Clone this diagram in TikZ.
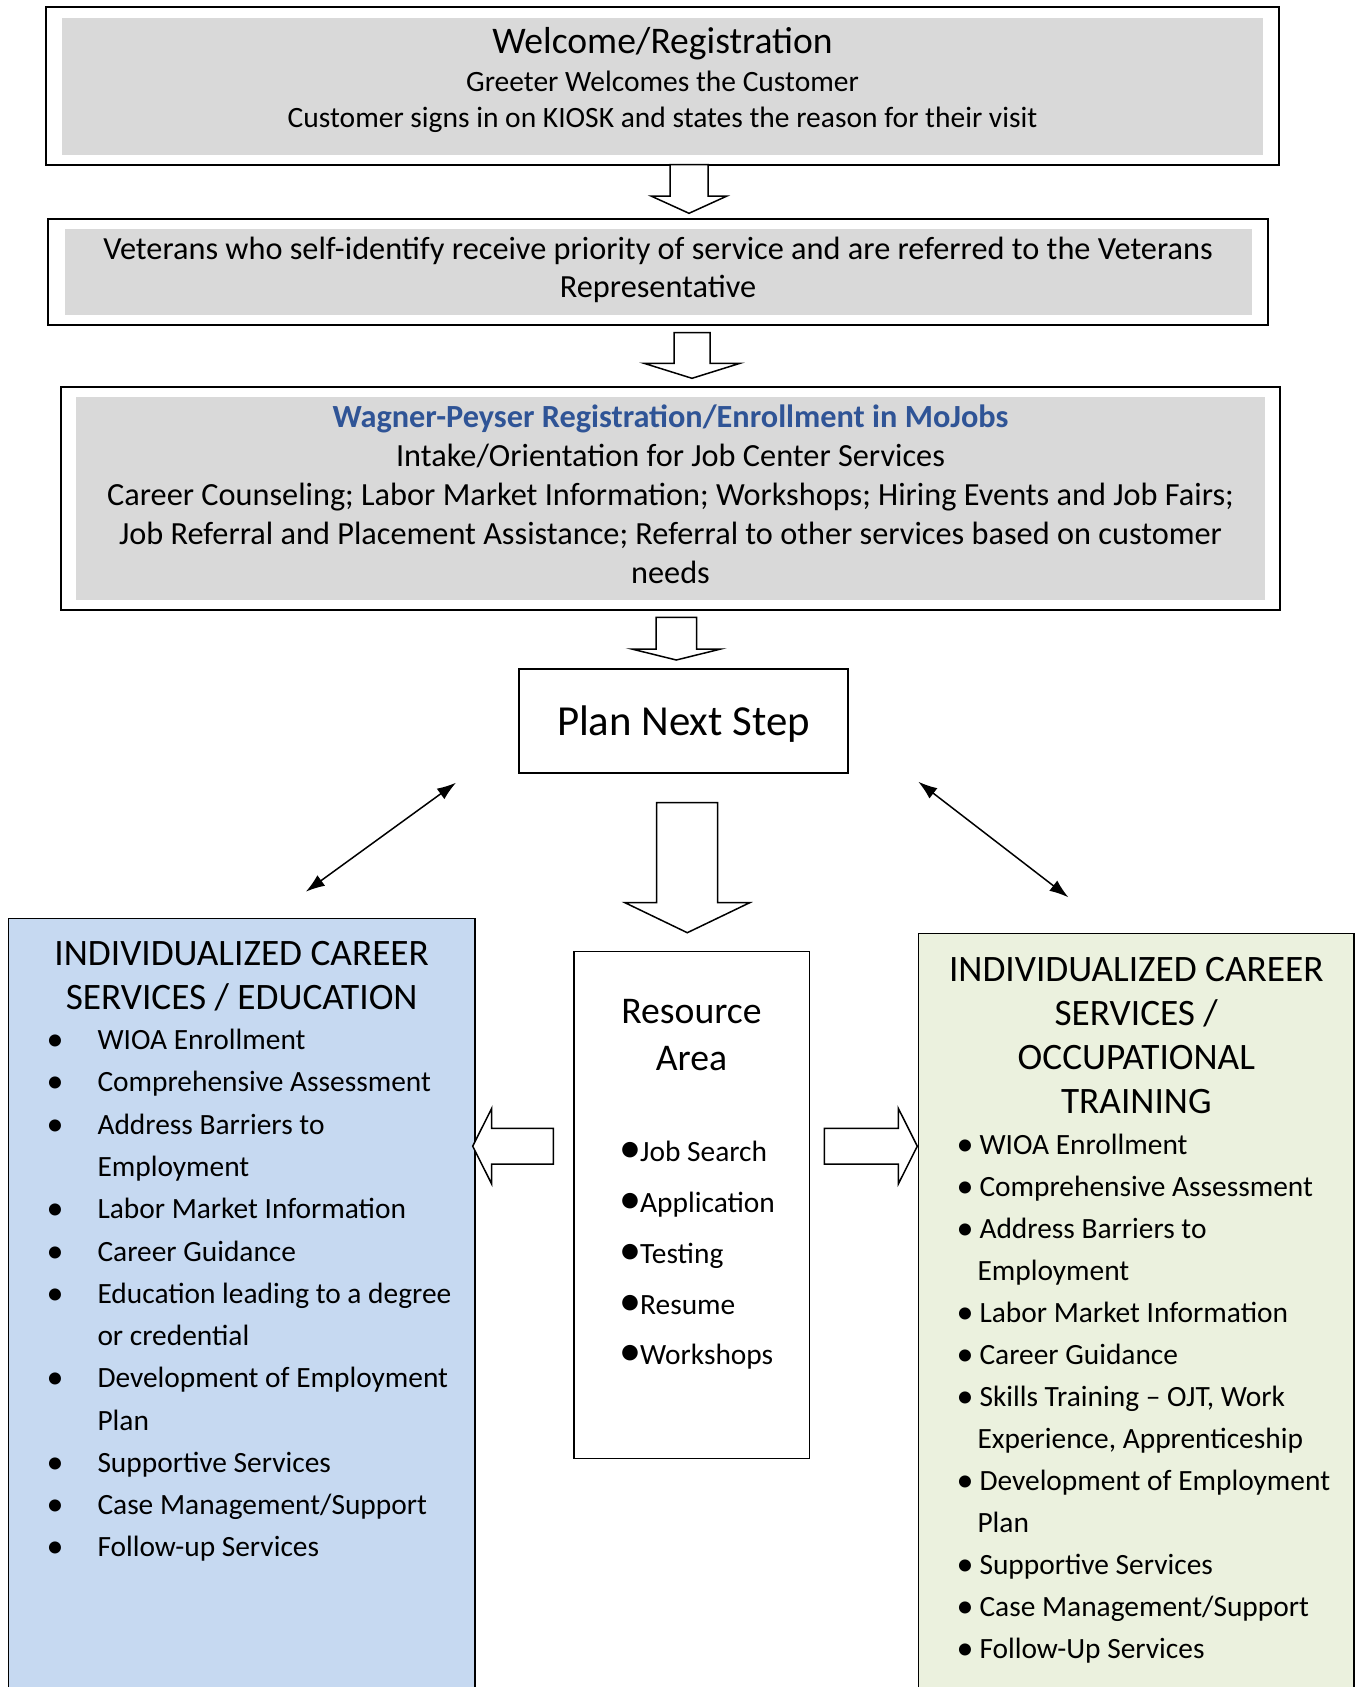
\documentclass[tikz,border=0pt]{standalone}
\usepackage{fontspec}
\setmainfont{Carlito}
\usetikzlibrary{arrows.meta}
\definecolor{boxgray}{RGB}{217,217,217}
\definecolor{edublue}{RGB}{198,217,241}
\definecolor{traingreen}{RGB}{235,241,222}
\definecolor{titleblue}{RGB}{47,84,150}
\newcommand{\listdot}[2][34]{\makebox[#2]{\raisebox{-1pt}{\fontsize{#1}{#1}\selectfont\textbullet}}}

\begin{document}
\begin{tikzpicture}[x=1pt, y=-1pt,
    outerbox/.style={draw, line width=2pt, inner sep=0pt},
    graybox/.style={fill=boxgray, inner sep=0pt},
    sidebox/.style={draw, line width=1.5pt, inner sep=0pt},
    plaintext/.style={inner sep=0pt, anchor=base, align=center},
    listtext/.style={inner sep=0pt, anchor=base west},
    blockarrow/.style={draw, fill=white, line width=1.5pt, line join=miter},
    linkarrow/.style={{Latex[length=19pt,width=13pt]}-{Latex[length=19pt,width=13pt]}, line width=1.5pt}]

  \useasboundingbox (0,0) rectangle (1356,1687);
  \clip (0,0) rectangle (1356,1687);

  % Welcome/Registration box (text placed by its last baseline)
  \node[outerbox, minimum width=1232.5pt, minimum height=157.4pt] (welcomeframe) at (662.25,86) {};
  \node[graybox, minimum width=1201pt, minimum height=137.3pt] (welcome) at (662.5,86.35) {};
  \node[plaintext, font={\fontsize{29.5}{36}\selectfont}] (welcometext) at (662.5,127.7) {%
    {\fontsize{37.6}{44}\selectfont Welcome/Registration}\\[2.4pt]
    Greeter Welcomes the Customer\\
    Customer signs in on KIOSK and states the reason for their visit};

  % Veterans box
  \node[outerbox, minimum width=1220.4pt, minimum height=106pt] (veteransframe) at (657.8,272) {};
  \node[graybox, minimum width=1187pt, minimum height=86pt] (veterans) at (658.5,272) {};
  \node[plaintext, font={\fontsize{32.3}{38.7}\selectfont}] (veteranstext) at (658,297.7) {%
    Veterans who self-identify receive priority of service and are referred to the Veterans\\
    Representative};

  % Wagner-Peyser box
  \node[outerbox, minimum width=1219.5pt, minimum height=223.3pt] (wagnerframe) at (670.25,498.35) {};
  \node[graybox, minimum width=1188.7pt, minimum height=203.3pt] (wagner) at (670.35,498.35) {};
  \node[plaintext, font={\fontsize{32.3}{39}\selectfont}] (wagnertext) at (670.5,583.3) {%
    {\bfseries\color{titleblue}Wagner-Peyser Registration/Enrollment in MoJobs}\\
    Intake/Orientation for Job Center Services\\
    Career Counseling; Labor Market Information; Workshops; Hiring Events and Job Fairs;\\
    Job Referral and Placement Assistance; Referral to other services based on customer\\
    needs};

  % Plan next step
  \node[outerbox, minimum width=329pt, minimum height=104.6pt, text height=30pt, text depth=2pt,
        font={\fontsize{42.8}{50}\selectfont}] (plan) at (683.5,721) {Plan Next Step};

  % Block arrows down
  \draw[blockarrow] (670,164.7) -- (670,196) -- (651,196) -- (689,213.3) -- (727,196) -- (708,196) -- (708,164.7) -- cycle;
  \draw[blockarrow] (674,332.7) -- (674,363.3) -- (644,363.3) -- (692,378.3) -- (740,363.3) -- (710,363.3) -- (710,332.7) -- cycle;
  \draw[blockarrow] (656,617.3) -- (656,649) -- (631.7,649) -- (676.3,660) -- (720.8,649) -- (696.5,649) -- (696.5,617.3) -- cycle;
  \draw[blockarrow] (656.5,802.7) -- (656.5,902.7) -- (625,902.7) -- (687.3,932.7) -- (749.7,902.7) -- (717.7,902.7) -- (717.7,802.7) -- cycle;

  % Education box
  \node[sidebox, fill=edublue, minimum width=466.7pt, minimum height=781.4pt] (education) at (241.65,1309.3) {};
  \node[plaintext, font={\fontsize{37.3}{44.2}\selectfont}] (educationtitle) at (241.7,1009.5) {%
    INDIVIDUALIZED CAREER\\
    SERVICES / EDUCATION};
  \node[listtext, font={\fontsize{29.4}{42.27}\selectfont}] (educationlist) at (45,1049.7) {%
    \begin{tabular}[t]{@{}l@{\hspace{32.3pt}}l@{}}
      \listdot{20pt} & WIOA Enrollment\\
      \listdot{20pt} & Comprehensive Assessment\\
      \listdot{20pt} & Address Barriers to\\
                     & Employment\\
      \listdot{20pt} & Labor Market Information\\
      \listdot{20pt} & Career Guidance\\
      \listdot{20pt} & Education leading to a degree\\
                     & or credential\\
      \listdot{20pt} & Development of Employment\\
                     & Plan\\
      \listdot{20pt} & Supportive Services\\
      \listdot{20pt} & Case Management/Support\\
      \listdot{20pt} & Follow-up Services
    \end{tabular}};

  % Resource area box
  \node[sidebox, minimum width=235.3pt, minimum height=506.6pt] (resource) at (691.65,1205) {};
  \node[plaintext, font={\fontsize{37.7}{46.7}\selectfont}] (resourcetitle) at (691.5,1070) {Resource\\Area};
  \node[listtext, font={\fontsize{29.4}{50.8}\selectfont}] (resourcelist) at (625.2,1161.7) {%
    \begin{tabular}[t]{@{}l@{\hspace{3.8pt}}l@{}}
      \listdot[44]{11pt} & Job Search\\
      \listdot[44]{11pt} & Application\\
      \listdot[44]{11pt} & Testing\\
      \listdot[44]{11pt} & Resume\\
      \listdot[44]{11pt} & Workshops
    \end{tabular}};

  % Training box
  \node[sidebox, fill=traingreen, minimum width=435.7pt, minimum height=766.3pt] (training) at (1136.15,1316.85) {};
  \node[plaintext, font={\fontsize{37.3}{44}\selectfont}] (trainingtitle) at (1136.3,1113) {%
    INDIVIDUALIZED CAREER\\
    SERVICES /\\
    OCCUPATIONAL\\
    TRAINING};
  \node[listtext, font={\fontsize{29.4}{42}\selectfont}] (traininglist) at (959,1154.8) {%
    \begin{tabular}[t]{@{}l@{\hspace{8.3pt}}l@{}}
      \listdot{12pt} & WIOA Enrollment\\
      \listdot{12pt} & Comprehensive Assessment\\
      \listdot{12pt} & Address Barriers to\\
                     & \hspace{-2pt}Employment\\
      \listdot{12pt} & Labor Market Information\\
      \listdot{12pt} & Career Guidance\\
      \listdot{12pt} & Skills Training -- OJT, Work\\
                     & \hspace{-2pt}Experience, Apprenticeship\\
      \listdot{12pt} & Development of Employment\\
                     & \hspace{-2pt}Plan\\
      \listdot{12pt} & Supportive Services\\
      \listdot{12pt} & Case Management/Support\\
      \listdot{12pt} & Follow-Up Services
    \end{tabular}};

  % Block arrows sideways
  \draw[blockarrow] (553.3,1128.3) -- (491.7,1128.3) -- (491.7,1108.3) -- (472.7,1146.2) -- (491.7,1184) -- (491.7,1164) -- (553.3,1164) -- cycle;
  \draw[blockarrow] (824.3,1128.3) -- (898.3,1128.3) -- (898.3,1108.3) -- (917.3,1146.2) -- (898.3,1184) -- (898.3,1164) -- (824.3,1164) -- cycle;

  % Two-way links to plan
  \coordinate (planleft) at (456,782.7);
  \coordinate (educationtop) at (305.8,891.7);
  \coordinate (planright) at (918.3,781.7);
  \coordinate (trainingtop) at (1068.4,897.3);
  \draw[linkarrow] (educationtop) -- (planleft);
  \draw[linkarrow] (planright) -- (trainingtop);
\end{tikzpicture}
\end{document}
